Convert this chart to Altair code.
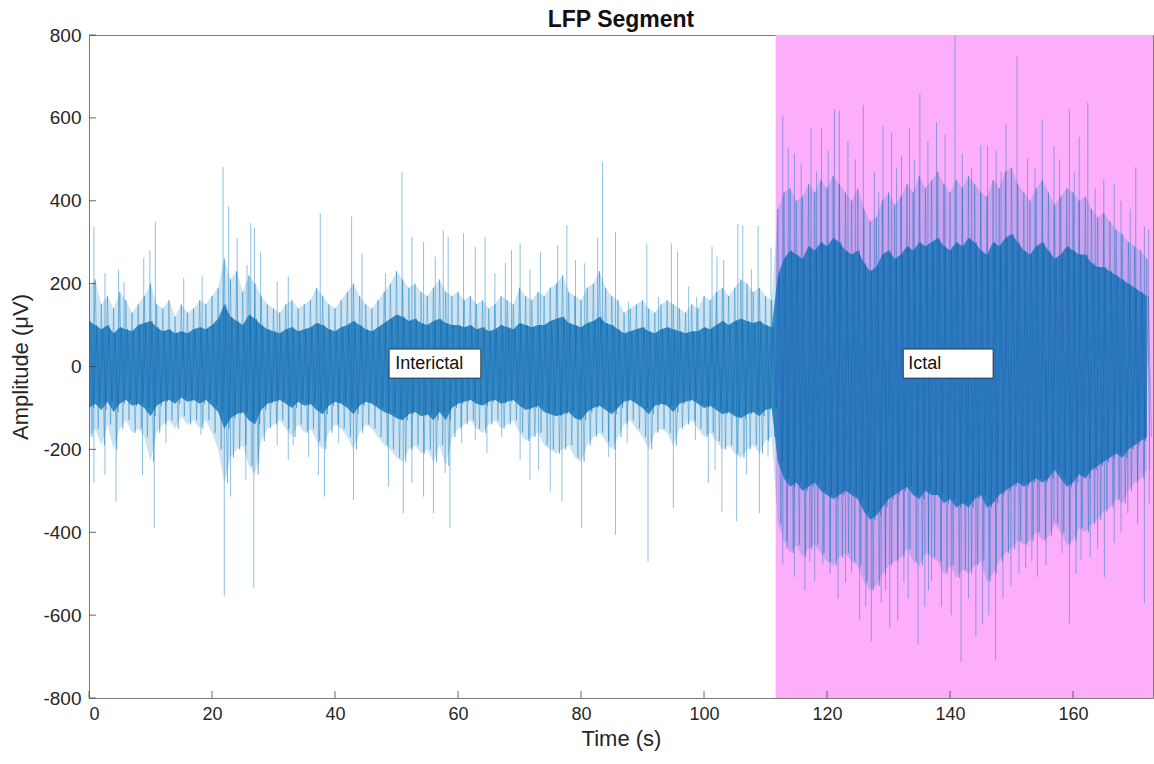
import altair as alt
import pandas as pd

# ---------------- data ----------------
# per-second envelope of the medium-density band (t = 0 .. 172 s)
halo_hi = [
    190, 210, 150, 170, 140, 180, 160, 130, 150, 170,
    200, 150, 140, 160, 120, 150, 130, 140, 160, 150,
    170, 190, 260, 210, 230, 180, 220, 200, 170, 150,
    140, 130, 150, 160, 140, 150, 160, 190, 170, 150,
    140, 160, 180, 200, 170, 150, 140, 160, 180, 200,
    230, 210, 190, 200, 180, 170, 190, 210, 180, 170,
    180, 160, 170, 150, 160, 140, 150, 170, 160, 150,
    190, 170, 160, 180, 170, 190, 200, 220, 180, 170,
    160, 190, 200, 230, 190, 170, 160, 130, 140, 150,
    160, 140, 130, 150, 160, 150, 140, 130, 150, 140,
    170, 160, 180, 190, 170, 190, 210, 200, 180, 190, 170, 160,
    380, 420, 430, 400, 410, 440, 420, 450, 430, 460,
    440, 420, 400, 430, 380, 350, 360, 400, 420, 390,
    410, 440, 420, 460, 430, 450, 470, 440, 420, 450,
    430, 460, 440, 420, 410, 450, 430, 470, 480, 440,
    420, 400, 430, 450, 420, 390, 410, 430, 420, 400,
    410, 380, 360, 370, 350, 330, 320, 300, 290, 280, 260,
]
halo_lo = [
    -170, -150, -190, -140, -200, -150, -130, -160, -150, -170,
    -230, -160, -140, -130, -150, -120, -140, -130, -150, -130,
    -160, -200, -280, -220, -200, -190, -240, -260, -180, -150,
    -140, -130, -150, -170, -140, -160, -150, -180, -200, -160,
    -140, -150, -170, -200, -160, -140, -150, -170, -190, -200,
    -220, -230, -200, -190, -210, -200, -230, -190, -240, -170,
    -150, -140, -130, -150, -160, -140, -130, -150, -140, -130,
    -160, -180, -170, -160, -190, -200, -210, -200, -190, -220,
    -230, -190, -170, -160, -180, -200, -170, -140, -130, -150,
    -170, -200, -160, -150, -160, -190, -150, -140, -130, -150,
    -170, -160, -180, -200, -190, -210, -220, -200, -190, -210, -180, -170,
    -380, -420, -450, -430, -460, -440, -430, -450, -470, -480,
    -460, -450, -470, -480, -520, -540, -530, -500, -480, -470,
    -460, -440, -470, -480, -450, -460, -470, -500, -480, -510,
    -490, -500, -480, -470, -520, -500, -470, -450, -440, -420,
    -430, -420, -400, -420, -410, -380, -400, -430, -420, -390,
    -400, -380, -370, -350, -340, -320, -330, -300, -280, -270, -250,
]
# per-second envelope of the dark dense core
core_hi = [
    110, 100, 90, 100, 80, 95, 90, 85, 100, 105,
    110, 95, 85, 90, 80, 85, 80, 90, 95, 90,
    100, 115, 150, 120, 110, 100, 125, 115, 100, 90,
    85, 80, 90, 95, 85, 90, 95, 105, 100, 90,
    85, 95, 100, 110, 100, 90, 85, 95, 105, 115,
    125, 120, 110, 115, 105, 100, 110, 115, 105, 100,
    100, 95, 100, 90, 95, 85, 90, 100, 95, 90,
    105, 100, 95, 100, 100, 110, 115, 120, 105, 100,
    95, 105, 110, 120, 105, 100, 90, 80, 85, 90,
    95, 85, 80, 90, 95, 90, 85, 80, 85, 85,
    95, 90, 100, 110, 100, 110, 115, 110, 105, 110, 100, 95,
    220, 260, 280, 270, 260, 290, 280, 300, 290, 310,
    300, 280, 270, 280, 250, 230, 240, 270, 280, 260,
    270, 290, 280, 300, 290, 300, 310, 290, 280, 300,
    290, 310, 300, 280, 270, 300, 290, 310, 320, 300,
    280, 270, 290, 300, 280, 260, 270, 290, 280, 270,
    270, 250, 240, 240, 230, 220, 210, 200, 190, 180, 170,
]
core_lo = [
    -100, -90, -105, -85, -110, -90, -80, -95, -90, -100,
    -120, -95, -85, -80, -90, -75, -85, -80, -90, -80,
    -95, -110, -150, -125, -115, -110, -130, -140, -105, -90,
    -85, -80, -90, -100, -85, -95, -90, -105, -115, -95,
    -85, -90, -100, -115, -95, -85, -90, -100, -110, -115,
    -125, -130, -115, -110, -120, -115, -130, -110, -130, -100,
    -90, -85, -80, -90, -95, -85, -80, -90, -85, -80,
    -95, -105, -100, -95, -110, -115, -120, -115, -110, -125,
    -130, -110, -100, -95, -105, -115, -100, -85, -80, -90,
    -100, -115, -95, -90, -95, -110, -90, -85, -80, -90,
    -100, -95, -105, -115, -110, -120, -125, -115, -110, -120, -105, -100,
    -230, -270, -290, -280, -300, -290, -280, -300, -310, -320,
    -310, -300, -310, -320, -350, -370, -360, -340, -320, -310,
    -300, -290, -310, -320, -300, -310, -310, -330, -320, -340,
    -330, -340, -320, -310, -340, -330, -310, -300, -290, -280,
    -290, -280, -270, -280, -270, -250, -270, -290, -280, -260,
    -270, -250, -240, -230, -220, -210, -220, -200, -190, -180, -170,
]

# isolated spikes (time s, amplitude uV)
spike_t = [
    0.8, 2.6, 4.8, 5.7, 8.9, 9.9, 10.8, 15.4, 18.4, 21.8, 22.7, 24.1, 25.7, 26.3, 26.9, 27.9, 30.6, 32.4,
    37.6, 42.7, 44.4, 48.2, 50.9, 52.5, 54.4, 56.3, 57.6, 58.4, 60.9, 62.8, 64.4, 66.0, 67.7, 68.7,
    70.1, 71.7, 73.4, 76.2, 77.7, 79.1, 80.6, 82.7, 83.5, 85.6, 87.7, 90.7, 92.6, 94.7, 95.7, 97.5, 98.8,
    101.3, 102.1, 103.2, 105.5, 106.3, 107.7, 108.8, 110.9,
    0.8, 2.6, 4.4, 8.7, 10.6, 12.5, 18.2, 22.0, 23.0, 25.5, 26.8, 27.6, 30.6, 32.4, 33.2,
    35.7, 37.3, 38.3, 40.6, 43.0, 48.7, 51.1, 52.5, 54.4, 56.0, 57.9, 58.7, 60.6, 62.8, 64.7, 67.1,
    70.1, 71.7, 73.1, 75.0, 76.9, 80.1, 84.5, 85.6, 87.5, 90.9, 95.0, 98.6, 100.7, 101.8, 102.9,
    105.3, 106.9, 109.0, 110.4,
    112.8, 113.7, 114.7, 117.4, 119.1, 121.2, 122.0, 123.4, 125.9, 127.7, 129.1, 130.5, 132.1, 133.4,
    135.1, 136.4, 137.8, 140.8, 142.0, 145.0, 146.1, 149.1, 150.9, 152.6, 155.0, 156.9, 159.4, 161.0,
    162.4, 165.0, 166.7, 170.2, 171.6,
    115.8, 118.3, 120.2, 124.6, 128.4, 131.3, 134.2, 139.2, 143.5, 147.5, 148.3, 153.8, 157.8, 160.2,
    163.6, 167.8, 169.3, 172.3,
    112.8, 114.7, 116.4, 118.0, 119.3, 121.8, 124.0, 125.3, 127.2, 128.8, 130.2, 131.5, 133.2, 134.8,
    135.9, 137.0, 141.8, 144.2, 145.3, 147.4, 149.9, 152.3, 154.2, 156.9, 159.4, 161.3, 165.1, 166.7,
    168.9, 171.6,
    113.5, 117.2, 120.5, 123.0, 126.3, 129.5, 132.5, 136.5, 138.6, 140.2, 143.0, 146.3, 148.6, 151.2,
    153.3, 155.6, 158.2, 160.5, 162.8, 164.0, 167.8, 170.5, 172.4,
]
spike_v = [
    337, 225, 233, 204, 262, 281, 349, 213, 217, 482, 386, 310, 245, 346, 334, 277, 205, 217,
    370, 362, 274, 225, 470, 313, 301, 265, 329, 313, 322, 289, 313, 225, 250, 281,
    297, 233, 277, 293, 341, 257, 249, 310, 494, 325, 156, 297, 168, 297, 277, 193, 168,
    289, 265, 257, 344, 340, 235, 340, 287,
    -281, -262, -326, -262, -390, -185, -165, -555, -314, -274, -535, -234, -190, -226, -190,
    -218, -262, -314, -185, -322, -290, -354, -281, -314, -354, -257, -390, -185, -177, -209, -170,
    -226, -274, -250, -302, -326, -390, -218, -407, -185, -471, -342, -177, -281, -250, -350,
    -373, -260, -354, -218,
    606, 528, 513, 575, 575, 621, 617, 543, 631, 471, 580, 564, 508, 575,
    658, 543, 590, 800, 513, 534, 532, 585, 750, 503, 595, 532, 621, 554,
    637, 451, 440, 481, 338,
    490, 470, 520, 500, 420, 480, 500, 560, 480, 520, 470, 480, 500, 470,
    430, 400, 380, 330,
    -477, -508, -540, -518, -477, -560, -498, -612, -663, -570, -631, -612, -560, -672,
    -580, -518, -714, -652, -621, -709, -529, -487, -508, -373, -621, -467, -508, -426,
    -354, -571,
    -440, -470, -500, -520, -580, -540, -520, -540, -580, -600, -560, -600, -560, -500,
    -470, -480, -450, -500, -460, -440, -400, -380, -330,
]

ictal_start = [111.65]
ictal_end = [173.0]

x_ticks = [0, 20, 40, 60, 80, 100, 120, 140, 160]
y_ticks = [-800, -600, -400, -200, 0, 200, 400, 600, 800]

label_text = ["Interictal", "Ictal"]
label_t0 = [48.8, 132.4]
label_t1 = [63.7, 147.0]
label_tx = [49.8, 133.2]
label_vtop = [42, 42]
label_vbot = [-28, -28]
label_vmid = [7, 7]

# ---------------- build tables ----------------
n = min(len(halo_hi), len(halo_lo), len(core_hi), len(core_lo))
halo_rows, core_rows, env_rows = [], [], []
for i in range(n):
    halo_rows.append({"t": i, "v": halo_hi[i]})
    halo_rows.append({"t": i + 0.5, "v": halo_lo[i]})
    core_rows.append({"t": i + 0.25, "v": core_hi[i]})
    core_rows.append({"t": i + 0.75, "v": core_lo[i]})
    env_rows.append({"t": i, "hh": halo_hi[i], "hl": halo_lo[i], "ch": core_hi[i], "cl": core_lo[i]})
halo_df = pd.DataFrame(halo_rows)
core_df = pd.DataFrame(core_rows)
env_df = pd.DataFrame(env_rows)
spike_df = pd.DataFrame({"t": spike_t[: len(spike_v)], "v": spike_v[: len(spike_t)]})
ictal_df = pd.DataFrame({"a": ictal_start, "b": ictal_end})
xt_df = pd.DataFrame({"t": x_ticks})
yt_df = pd.DataFrame({"v": y_ticks})
lab_df = pd.DataFrame({"text": label_text, "t0": label_t0, "t1": label_t1, "tx": label_tx,
                       "vtop": label_vtop, "vbot": label_vbot, "vmid": label_vmid})

FONT = "Liberation Sans"
BLUE = "#0072BD"
xs = alt.Scale(domain=[0, 173], nice=False, zero=False)
ys = alt.Scale(domain=[-800, 800], nice=False, zero=False)

x_axis = alt.Axis(values=x_ticks, title="Time (s)", labelPadding=7, titlePadding=5,
                  labelExpr="toString(datum.value)", labelFontSize=18)
y_axis = alt.Axis(values=y_ticks, title="Amplitude (μV)", labelPadding=8, titlePadding=10,
                  labelExpr="toString(datum.value)", labelFontSize=19)

band = alt.Chart(ictal_df).mark_rect(color="#FDAEFB").encode(
    x=alt.X("a:Q", scale=xs, axis=x_axis),
    x2="b:Q",
    y=alt.Y("lo:Q", scale=ys, axis=y_axis),
    y2="hi:Q",
).transform_calculate(lo="-800", hi="800")

halo_area = alt.Chart(env_df).mark_area(color=BLUE, opacity=0.2, clip=True).encode(
    x=alt.X("t:Q", scale=xs), y=alt.Y("hl:Q", scale=ys), y2="hh:Q"
)
core_area = alt.Chart(env_df).mark_area(color="#1172b8", opacity=0.8, clip=True).encode(
    x=alt.X("t:Q", scale=xs), y=alt.Y("cl:Q", scale=ys), y2="ch:Q"
)

halo = alt.Chart(halo_df).mark_line(color=BLUE, strokeWidth=0.6, opacity=0.6, clip=True).encode(
    x=alt.X("t:Q", scale=xs), y=alt.Y("v:Q", scale=ys), order="t:Q"
)

spikes = alt.Chart(spike_df).mark_rule(color=BLUE, strokeWidth=0.8, opacity=0.55, clip=True).encode(
    x=alt.X("t:Q", scale=xs), y=alt.Y("v:Q", scale=ys), y2=alt.datum(0)
)

core = alt.Chart(core_df).mark_line(color="#0a5d9c", strokeWidth=0.7, opacity=0.5, clip=True).encode(
    x=alt.X("t:Q", scale=xs), y=alt.Y("v:Q", scale=ys), order="t:Q"
)

boxes = alt.Chart(lab_df).mark_rect(fill="white", stroke="#222222", strokeWidth=0.8).encode(
    x=alt.X("t0:Q", scale=xs), x2="t1:Q", y=alt.Y("vbot:Q", scale=ys), y2="vtop:Q"
)
texts = alt.Chart(lab_df).mark_text(align="left", baseline="middle", font=FONT, fontSize=18,
                                    color="#111111").encode(
    x=alt.X("tx:Q", scale=xs), y=alt.Y("vmid:Q", scale=ys), text="text:N"
)

xticks = alt.Chart(xt_df).mark_rule(color="#444444", strokeWidth=0.8).encode(
    x=alt.X("t:Q", scale=xs), y=alt.value(663), y2=alt.value(656)
)
yticks = alt.Chart(yt_df).mark_rule(color="#444444", strokeWidth=0.8).encode(
    y=alt.Y("v:Q", scale=ys), x=alt.value(0), x2=alt.value(7)
)

chart = alt.layer(band, halo_area, halo, spikes, core_area, core, xticks, yticks, boxes, texts).properties(
    width=1064,
    height=663,
    title=alt.TitleParams("LFP Segment", font=FONT, fontSize=23, fontWeight="bold",
                          color="#111111", offset=-6),
    autosize=alt.AutoSizeParams(type="none"),
    padding={"left": 89, "top": 35, "right": 1, "bottom": 66},
).configure_view(stroke="#7a7a7a", strokeWidth=1).configure_axis(
    grid=False, ticks=False, domain=False,
    labelFont=FONT, labelColor="#262626",
    titleFont=FONT, titleFontSize=22, titleFontWeight="normal", titleColor="#262626",
)

chart.save("out.html", embed_options={"renderer": "svg", "actions": False})
